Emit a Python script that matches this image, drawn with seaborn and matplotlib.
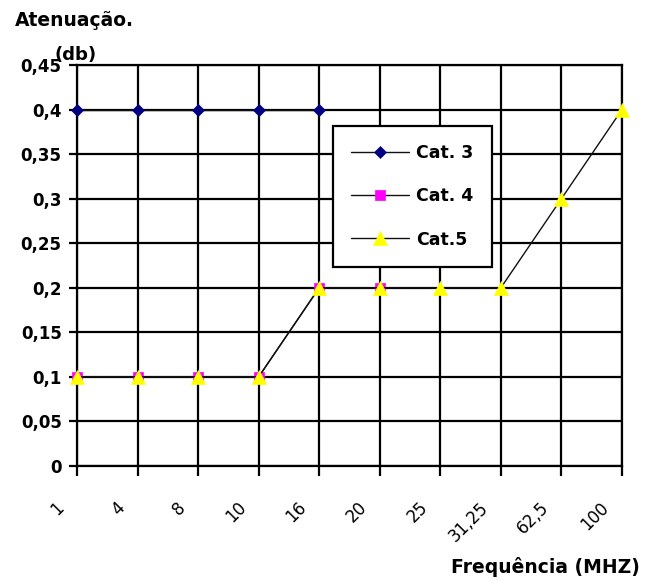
import numpy as np
import pandas as pd
import matplotlib
matplotlib.use("Agg")
import matplotlib.pyplot as plt
from matplotlib.transforms import ScaledTranslation
import seaborn as sns

freq_labels = ["1", "4", "8", "10", "16", "20", "25", "31,25", "62,5", "100"]
cat3 = [0.4, 0.4, 0.4, 0.4, 0.4]
cat4 = [0.1, 0.1, 0.1, 0.1, 0.2, 0.2]
cat5 = [0.1, 0.1, 0.1, 0.1, 0.2, 0.2, 0.2, 0.2, 0.3, 0.4]
y_ticks = [0, 0.05, 0.1, 0.15, 0.2, 0.25, 0.3, 0.35, 0.4, 0.45]
y_tick_labels = ["0", "0,05", "0,1", "0,15", "0,2", "0,25", "0,3", "0,35", "0,4", "0,45"]

sns.set_theme(style="white")
plt.rcParams["font.family"] = ["DejaVu Sans"]
plt.rcParams["text.color"] = "black"
plt.rcParams["xtick.color"] = "black"
plt.rcParams["ytick.color"] = "black"
plt.rcParams["axes.labelcolor"] = "black"

fig = plt.figure(figsize=(6.45, 5.8), dpi=100)
ax = fig.add_axes([77 / 645, 1 - 466 / 580, (622 - 77) / 645, (466 - 65) / 580])

pos = np.arange(len(freq_labels))

series = [
    ("Cat. 3", cat3, "D", "#000080", 6.5),
    ("Cat. 4", cat4, "s", "#FF00FF", 6.5),
    ("Cat.5", cat5, "^", "#FFFF00", 9.5),
]
for name, vals, mk, col, ms in series:
    sns.lineplot(x=pos[:len(vals)], y=vals, ax=ax, color="#111111", linewidth=1,
                 marker=mk, markersize=ms, markerfacecolor=col, markeredgecolor=col,
                 markeredgewidth=0.5, label=name, clip_on=False, zorder=3)

ax.set_xlim(0, len(freq_labels) - 1)
ax.set_ylim(0, 0.45)
ax.set_xticks(pos)
ax.set_xticklabels(freq_labels, rotation=45, ha="right", va="top",
                   rotation_mode="anchor", fontsize=12)
ax.set_yticks(y_ticks)
ax.set_yticklabels(y_tick_labels, fontsize=12, fontweight="bold")

ax.grid(True, color="black", linewidth=1.6)
ax.set_axisbelow(True)
for s in ax.spines.values():
    s.set_color("black")
    s.set_linewidth(1.6)
ax.tick_params(axis="x", direction="out", length=7, width=1.6, color="black", pad=2,
               bottom=True, labelcolor="black")
ax.tick_params(axis="y", direction="out", length=6, width=1.6, color="black", pad=5,
               left=True, labelcolor="black")

off = ScaledTranslation(-22 / 100, -20 / 100, fig.dpi_scale_trans)
for lab in ax.get_xticklabels():
    lab.set_transform(lab.get_transform() + off)

ax.set_xlabel("")
ax.set_ylabel("")

fig.text(15 / 645, 1 - 20 / 580, "Atenuação.", fontsize=13.5, fontweight="bold",
         ha="left", va="center", color="black")
fig.text(55 / 645, 1 - 55 / 580, "(db)", fontsize=13, fontweight="bold",
         ha="left", va="center", color="black")
fig.text(640 / 645, 1 - 567 / 580, "Frequência (MHZ)", fontsize=13.5, fontweight="bold",
         ha="right", va="center", color="black")

leg = ax.legend(loc="upper left", bbox_to_anchor=(333 / 645, 1 - 126 / 580),
                bbox_transform=fig.transFigure, borderaxespad=0, frameon=True,
                fancybox=False, shadow=False,
                prop={"weight": "bold", "size": 12.5},
                handlelength=3.35, handletextpad=0.4, labelspacing=1.45,
                borderpad=1.05)
for t in leg.get_texts():
    t.set_color("black")
fr = leg.get_frame()
fr.set_edgecolor("black")
fr.set_linewidth(1.6)
fr.set_facecolor("white")
fr.set_alpha(1)

fig.savefig("out.png", dpi=100, facecolor="white")
